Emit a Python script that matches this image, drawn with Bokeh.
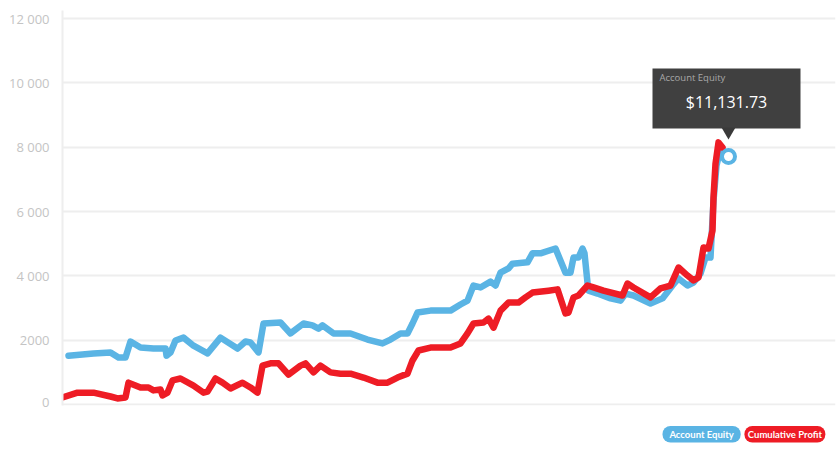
from bokeh.plotting import figure
from bokeh.layouts import column
from bokeh.models import Range1d, FixedTicker
from bokeh.embed import file_html
from bokeh.resources import INLINE
from bokeh.core.properties import value

# ---- data (day index, dollars) ----
equity_day = [6, 31, 48, 56, 63, 68, 78, 91, 103, 104, 108, 113, 121, 131, 145, 158, 175, 183,
              188, 196, 201, 218, 228, 241, 250, 256, 260, 271, 288, 305, 320, 328, 338, 345,
              350, 355, 368, 388, 398, 405, 411, 418, 428, 433, 438, 446, 450, 465, 470, 478,
              493, 503, 508, 511, 516, 520, 522, 525, 526, 535, 548, 558, 563, 571, 588, 600,
              610, 616, 625, 631, 638, 643, 648, 651, 654, 658, 666]
equity_val = [1520, 1590, 1620, 1460, 1460, 1960, 1770, 1740, 1740, 1520, 1620, 1990, 2080, 1830,
              1590, 2080, 1740, 1960, 1930, 1620, 2520, 2550, 2210, 2520, 2460, 2360, 2460, 2210,
              2210, 2020, 1900, 2020, 2210, 2210, 2520, 2860, 2920, 2920, 3110, 3230, 3700, 3640,
              3820, 3700, 4100, 4230, 4380, 4420, 4700, 4700, 4850, 4100, 4100, 4570, 4570, 4850,
              4700, 3790, 3540, 3450, 3300, 3230, 3450, 3390, 3140, 3300, 3700, 3920, 3700, 3790,
              4070, 4570, 4570, 6340, 7430, 7960, 7710]

profit_day = [0, 15, 31, 48, 55, 63, 66, 78, 86, 91, 98, 100, 105, 110, 118, 131, 141, 145, 153,
              160, 168, 180, 188, 195, 200, 208, 216, 226, 238, 243, 251, 258, 268, 278, 288, 301,
              315, 325, 335, 345, 350, 356, 368, 378, 388, 398, 405, 411, 421, 426, 431, 438, 446,
              456, 463, 470, 486, 495, 503, 506, 511, 516, 525, 531, 541, 560, 565, 571, 588, 598,
              608, 616, 625, 631, 636, 641, 646, 650, 651, 653, 656, 660]
profit_val = [220, 370, 370, 250, 190, 220, 680, 530, 530, 440, 470, 280, 370, 750, 810, 590, 370,
              400, 810, 680, 500, 680, 530, 370, 1210, 1280, 1280, 930, 1210, 1280, 1000, 1210, 1000,
              960, 960, 840, 680, 680, 840, 960, 1370, 1680, 1770, 1770, 1770, 1900, 2210, 2520,
              2550, 2670, 2390, 2920, 3170, 3170, 3330, 3480, 3540, 3580, 2830, 2860, 3330, 3390,
              3700, 3640, 3540, 3390, 3760, 3640, 3330, 3610, 3700, 4260, 4010, 3860, 3950, 4880,
              4850, 5410, 6440, 7490, 8150, 7990]

series_names = ["Account Equity", "Cumulative Profit"]
series_colors = ["#5ab4e4", "#ee1c25"]
y_ticks = [0, 2000, 4000, 6000, 8000, 10000, 12000]
y_tick_labels = ["0", "2000", "4 000", "6 000", "8 000", "10 000", "12 000"]
tooltip_title = "Account Equity"
tooltip_value = "$11,131.73"

# ---- layout ----
X0, X1 = 0, 773
Y0, Y1 = -30, 12250
FRAME_W, FRAME_H = 773, 395

p = figure(width=840, height=410, output_backend="svg", toolbar_location=None,
           x_range=Range1d(X0, X1), y_range=Range1d(Y0, Y1),
           min_border_left=62, min_border_right=5, min_border_top=10, min_border_bottom=5)
p.outline_line_color = None
p.background_fill_color = "white"
p.border_fill_color = "white"
p.xaxis.visible = False
p.xgrid.grid_line_color = None
p.ygrid.grid_line_color = "#eeeeee"
p.ygrid.grid_line_width = 2
p.yaxis.ticker = FixedTicker(ticks=y_ticks)
p.yaxis.major_label_overrides = {t: l for t, l in zip(y_ticks, y_tick_labels)}
p.yaxis.axis_line_color = "#eeeeee"
p.yaxis.axis_line_width = 2
p.yaxis.major_tick_line_color = None
p.yaxis.minor_tick_line_color = None
p.yaxis.major_label_text_color = "#c4c4c4"
p.yaxis.major_label_text_font = "Open Sans"
p.yaxis.major_label_text_font_size = "13px"
p.yaxis.major_label_standoff = 7

p.line(equity_day, equity_val, line_color=series_colors[0], line_width=6.5, line_join="round", line_cap="round")
p.line(profit_day, profit_val, line_color=series_colors[1], line_width=6.5, line_join="round", line_cap="round")

mx, my = equity_day[-1], equity_val[-1]
p.scatter([mx], [my], size=13, marker="circle", fill_color="white",
          line_color=series_colors[0], line_width=4)

# ---- tooltip ----
ypp = (Y1 - Y0) / FRAME_H
xpp = (X1 - X0) / FRAME_W
p.rect([mx - 2 * xpp], [my + 58 * ypp], width=148, height=60, width_units="screen",
       height_units="screen", fill_color="#3a3a3a", line_color=None, fill_alpha=0.97)
p.scatter([mx], [my + 25 * ypp], marker="inverted_triangle", size=14,
          fill_color="#3a3a3a", line_color=None)
p.text([mx], [my], text=[tooltip_title], x_offset=-69, y_offset=-79,
       text_font=value("Open Sans"), text_font_size="9.5px", text_color="#a8a8a8",
       text_align="left", text_baseline="middle")
p.text([mx], [my], text=[tooltip_value], x_offset=-2, y_offset=-55,
       text_font=value("Open Sans"), text_font_size="16px", text_color="white",
       text_align="center", text_baseline="middle")

# ---- legend pills (separate strip below the chart, 1 unit = 1 px) ----
leg = figure(width=840, height=40, output_backend="svg", toolbar_location=None,
             x_range=Range1d(0, 840), y_range=Range1d(0, 40),
             min_border_left=0, min_border_right=0, min_border_top=0, min_border_bottom=0)
leg.axis.visible = False
leg.grid.visible = False
leg.outline_line_color = None
pill_left = [652, 741]
pill_right = [737, 829]
leg.quad(left=pill_left, right=pill_right, top=[24.5, 24.5], bottom=[8, 8],
         fill_color=series_colors, line_color=None, border_radius=8)
leg.text(x=[(a + b) / 2 for a, b in zip(pill_left, pill_right)], y=[16.5, 16.5], text=series_names,
         text_font=value("Lato"), text_font_style="bold", text_font_size="9.5px",
         text_color="white", text_align="center", text_baseline="middle")

open("out.html", "w").write(file_html(column(p, leg, spacing=0), INLINE))
